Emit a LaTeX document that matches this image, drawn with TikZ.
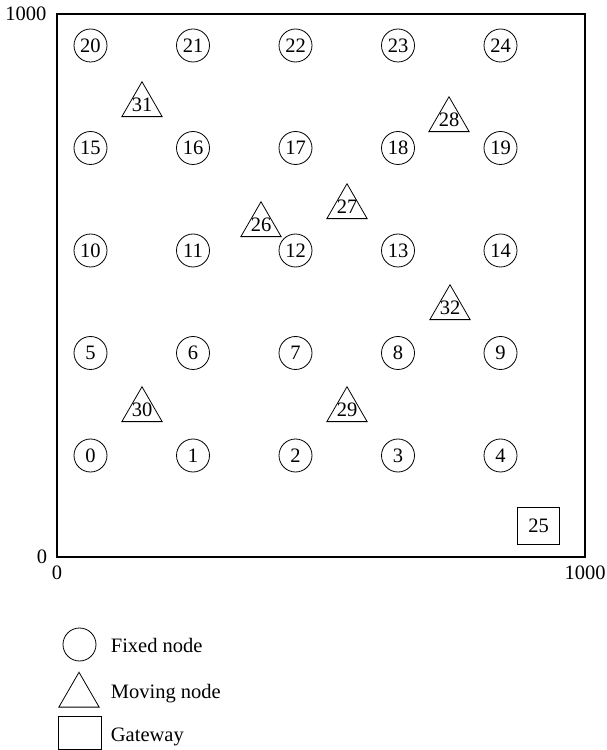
\documentclass[tikz,border=0pt]{standalone}
\usepackage{fontspec}
\setmainfont{Liberation Serif}
\usetikzlibrary{shapes.geometric}

\begin{document}
\begin{tikzpicture}[
  x=1pt,
  y=1pt,
  font=\fontsize{20.5}{23}\selectfont,
  fixed/.style={
      circle,
      draw,
      line width=0.8pt,
      inner sep=0pt,
      minimum size=33
  },
  moving/.style={
      regular polygon,
      regular polygon sides=3,
      draw,
      line width=0.8pt,
      inner sep=-6pt,
      minimum size=46.5
  },
  gateway/.style={
      rectangle,
      draw,
      line width=0.8pt,
      minimum width=42,
      minimum height=37
  },
  legendtext/.style={
      anchor=base west,
      inner sep=0pt
  }
]

\useasboundingbox (-57,-193) rectangle (549,557);

% ==================================================
% Field
% ==================================================

\draw[line width=1.1pt] (0,0) rectangle (528,543);

\node (y1000) at (-31,543) {1000};
\node (y0) at (-15,0) {0};
\node (x0) at (0,-16) {0};
\node (x1000) at (528,-16) {1000};

% ==================================================
% Fixed nodes
% ==================================================

\node[fixed] (n0) at (33.5,101.5) {0};
\node[fixed] (n1) at (136,101.5) {1};
\node[fixed] (n2) at (238.5,101.5) {2};
\node[fixed] (n3) at (341,101.5) {3};
\node[fixed] (n4) at (443.5,101.5) {4};

\node[fixed] (n5) at (33.5,204) {5};
\node[fixed] (n6) at (136,204) {6};
\node[fixed] (n7) at (238.5,204) {7};
\node[fixed] (n8) at (341,204) {8};
\node[fixed] (n9) at (443.5,204) {9};

\node[fixed] (n10) at (33.5,306.5) {10};
\node[fixed] (n11) at (136,306.5) {11};
\node[fixed] (n12) at (238.5,306.5) {12};
\node[fixed] (n13) at (341,306.5) {13};
\node[fixed] (n14) at (443.5,306.5) {14};

\node[fixed] (n15) at (33.5,409) {15};
\node[fixed] (n16) at (136,409) {16};
\node[fixed] (n17) at (238.5,409) {17};
\node[fixed] (n18) at (341,409) {18};
\node[fixed] (n19) at (443.5,409) {19};

\node[fixed] (n20) at (33.5,511.5) {20};
\node[fixed] (n21) at (136,511.5) {21};
\node[fixed] (n22) at (238.5,511.5) {22};
\node[fixed] (n23) at (341,511.5) {23};
\node[fixed] (n24) at (443.5,511.5) {24};

% ==================================================
% Moving nodes and gateway
% ==================================================

\node[moving] (m26) at (204,332) {26};
\node[moving] (m27) at (290,350) {27};
\node[moving] (m28) at (392,437) {28};
\node[moving] (m29) at (290,147) {29};
\node[moving] (m30) at (85,147) {30};
\node[moving] (m31) at (85,452) {31};
\node[moving] (m32) at (393,249) {32};

\node[gateway] (gw) at (481.5,31.5) {25};

% ==================================================
% Legend
% ==================================================

\node[fixed] (lfixed) at (22.5,-87.5) {};
\node[legendtext] (tfixed) at (53.7,-95.3) {Fixed node};

\node[moving] (lmoving) at (22,-138.5) {};
\node[legendtext] (tmoving) at (53.7,-141.3) {Moving node};

\node[gateway, minimum width=43, minimum height=33] (lgw) at (23,-176) {};
\node[legendtext] (tgw) at (53.7,-184.7) {Gateway};

\end{tikzpicture}
\end{document}
